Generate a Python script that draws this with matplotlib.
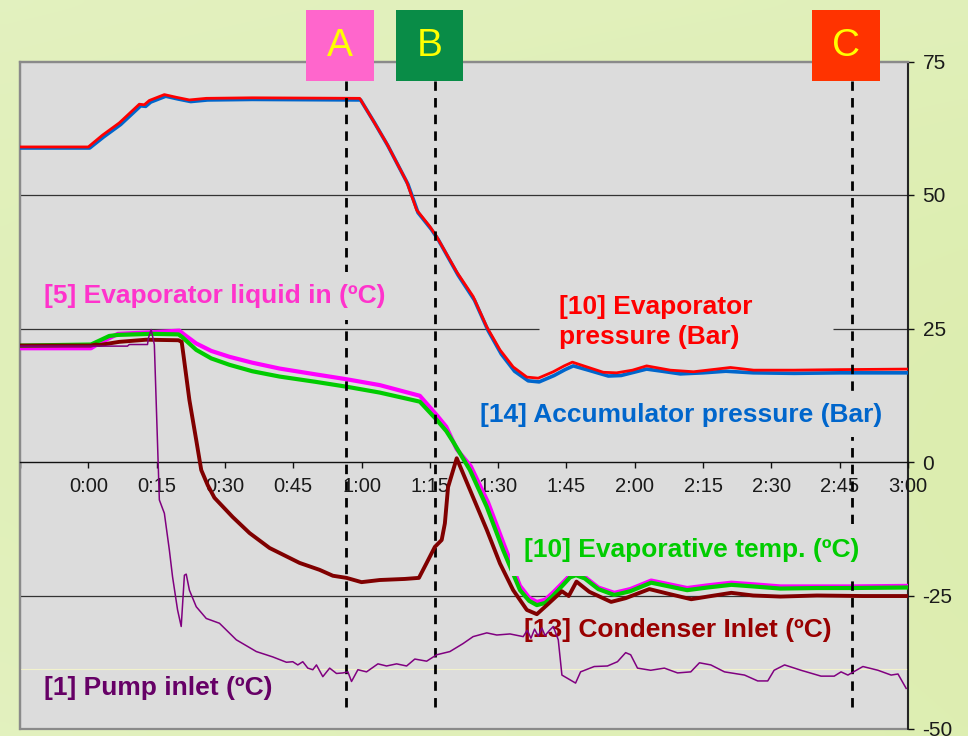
import numpy as np
import matplotlib
matplotlib.use("Agg")
import matplotlib.pyplot as plt
from matplotlib.patches import Rectangle

# ---------------- data (time in minutes, values in bar / degC) ----------------
p_evap_t = [-15, 0, 3.1, 6.8, 11.2, 12.3, 13.4, 16.7, 19.3, 22.2, 25.9, 36, 59.6,
            62.5, 65.5, 69.9, 72.1, 75, 76.5, 80.9, 84.5, 87.5, 90.4, 93.3, 96.3,
            98.8, 102.1, 104.5, 106.3, 109.5, 113.1, 116, 119.5, 122.6, 127.8,
            132.9, 137, 141, 146.1, 155, 165, 180]
p_evap_v = [59.0, 59.0, 61.2, 63.5, 67.0, 66.9, 67.7, 68.8, 68.3, 67.8, 68.1, 68.2, 68.1,
            64.0, 59.7, 52.5, 47.2, 44.1, 42.2, 35.6, 31.0, 25.3, 21.0, 17.8, 15.9,
            15.7, 16.9, 18.0, 18.7, 17.8, 16.8, 16.7, 17.2, 18.0, 17.2,
            16.9, 17.3, 17.7, 17.2, 17.2, 17.3, 17.4]

p_acc_t = [-15, 0.3, 3.4, 7.1, 11.5, 12.6, 13.7, 17.0, 19.6, 22.5, 26.2, 36, 59.8,
           62.8, 65.8, 70.2, 72.4, 75.3, 76.8, 81.2, 84.8, 87.8, 90.7, 93.6, 96.6,
           99.0, 102.3, 104.7, 106.5, 109.8, 114.2, 117, 122.6, 126, 130,
           135, 140, 146, 155, 165, 180]
p_acc_v = [58.8, 58.8, 60.9, 63.2, 66.7, 66.6, 67.4, 68.5, 68.0, 67.5, 67.8, 67.9, 67.8,
           63.6, 59.2, 52.0, 46.7, 43.6, 41.7, 35.0, 30.3, 24.6, 20.2, 17.0, 15.2,
           15.0, 16.2, 17.3, 18.0, 17.2, 16.1, 16.2, 17.4, 17.0, 16.5,
           16.7, 17.0, 16.7, 16.6, 16.7, 16.7]

liq_in_t = [-15, 0.6, 2.5, 6.5, 14, 20.0, 21.0, 23.7, 27, 31, 36, 42, 50, 56.7, 64, 72.8,
            76.5, 78.6, 80.9, 84, 87.8, 91.3, 94.8, 96.8, 98.5, 100.3, 102.1, 105.8,
            107.1, 109, 112, 115.5, 119, 123.6, 127, 131.5, 136, 141.2, 146, 152,
            160, 167.4, 180]
liq_in_v = [21.3, 21.3, 22.3, 24.0, 24.3, 24.6, 23.9, 22.2, 20.8, 19.7, 18.6, 17.5, 16.4,
            15.5, 14.4, 12.4, 8.8, 6.6, 2.4, -0.8, -7.6, -15.5, -23.2, -25.4, -26.2,
            -25.8, -24.4, -21.2, -20.9, -21.5, -23.5, -24.5, -23.8, -22.2, -22.8,
            -23.6, -23.1, -22.6, -22.9, -23.3, -23.3, -23.3, -23.2]

evap_temp_t = [-15, 0.6, 4.6, 6.5, 14, 19.8, 20.6, 23.7, 27, 31, 36, 42, 50, 56.7, 64,
               72.8, 76.5, 78.6, 80.1, 83.8, 87.5, 91.1, 94.8, 96.8, 98.5, 100.3,
               102.1, 105.8, 107.1, 109, 112, 115.5, 119, 123.6, 127, 131.5, 136,
               141.2, 146, 152, 160, 167.4, 180]
evap_temp_v = [21.8, 22.0, 23.6, 23.8, 24.0, 23.9, 23.4, 21.0, 19.4, 18.2, 17.0, 16.0,
               15.0, 14.1, 13.0, 11.3, 7.9, 5.8, 3.8, -1.5, -8.4, -16.5, -24.0, -26.0,
               -26.8, -26.4, -25.0, -21.6, -21.2, -21.8, -23.8, -24.9, -24.2, -22.6,
               -23.2, -24.0, -23.5, -23.0, -23.3, -23.7, -23.6, -23.6, -23.5]

cond_in_t = [-15, 0.5, 1.7, 2.4, 6.8, 12.7, 19.8, 20.5, 20.9, 22.2, 23.7, 24.8, 26.2,
             27.7, 31.7, 35.4, 39.8, 46.4, 50.8, 53.7, 56.7, 60.0, 64, 69.5, 72.6, 74.3,
             76.1, 77.6, 78.3, 79.0, 80.9, 83.8, 87.5, 90.4, 93.3, 96.3, 98.5, 100.7,
             104.0, 105.5, 107.2, 110, 114.8, 118, 123.2, 127, 132.4, 136, 141.2,
             146, 152, 160, 170, 180]
cond_in_v = [21.8, 21.8, 22.0, 21.9, 22.5, 22.9, 22.8, 22.5, 20.0, 11.6, 4.1, -1.5, -4.3,
             -6.7, -10.3, -13.3, -16.1, -18.9, -20.2, -21.3, -21.7, -22.5, -22.1, -21.9,
             -21.7, -18.9, -15.9, -14.6, -11.5, -4.7, 0.7, -5.2, -12.7, -19.0, -24.0,
             -27.7, -28.5, -26.8, -24.2, -25.1, -22.4, -24.3, -26.2, -25.5, -23.8,
             -24.6, -25.7, -25.2, -24.5, -25.0, -25.2, -25.0, -25.1, -25.1]

pump_in_t = [-15, 2.4, 8.6, 9.0, 13.0, 13.2, 13.8, 14.5, 15.6, 16.3, 16.7, 17.8, 18.5,
             19.6, 20.4, 21.1, 21.5, 22.2, 23.7, 25.9, 28.8, 32.5, 36.9, 40.5, 43.5,
             44.9, 46.0, 47.1, 48.2, 49.3, 50.1, 51.5, 53.0, 54.5, 55.9, 57.0, 57.8,
             59.2, 61.1, 63.6, 65.5, 67.7, 69.9, 71.7, 74.3, 76.5, 79.4, 82.3, 84.5,
             87.5, 89.7, 92.6, 95.5, 96.4, 97.2, 98.0, 98.8, 99.6, 100.3, 101.2,
             102.1, 103.2, 104.0, 107.0, 108.1, 111.1, 114.0, 116.2, 118.0, 119.1,
             120.6, 123.5, 126.5, 129.4, 132.3, 134.2, 136.7, 139.7, 144.1, 147.0,
             149.2, 150.6, 152.9, 156.5, 160.9, 163.8, 165.3, 166.8, 170.1, 173.4,
             176.3, 177.8, 179.6]
pump_in_v = [21.7, 21.7, 21.7, 22.0, 22.0, 23.2, 24.8, 22.0, -7.1, -8.7, -9.6, -16.5,
             -21.5, -27.7, -30.8, -21.2, -21.0, -24.0, -27.1, -29.3, -30.2, -33.3,
             -35.5, -36.5, -37.5, -37.4, -38.0, -37.4, -38.6, -38.9, -38.0, -40.2,
             -38.6, -39.6, -39.5, -39.3, -41.1, -38.9, -39.3, -37.8, -38.2, -37.8,
             -38.2, -36.9, -37.3, -36.1, -35.5, -34.0, -32.7, -32.0, -32.4, -32.2,
             -32.7, -31.5, -33.0, -31.3, -32.6, -31.1, -32.5, -31.6, -30.8, -33.3,
             -39.9, -41.4, -39.3, -38.3, -38.2, -37.4, -35.7, -36.1, -38.6, -39.0,
             -38.6, -39.5, -39.3, -37.6, -38.0, -39.3, -39.9, -41.0, -41.0, -39.0,
             -38.0, -39.0, -40.1, -40.1, -39.3, -39.9, -38.3, -39.0, -39.9, -39.7,
             -42.4]

x_ticks = [-15, 0, 15, 30, 45, 60, 75, 90, 105, 120, 135, 150, 165, 180]
x_tick_labels = ["", "0:00", "0:15", "0:30", "0:45", "1:00", "1:15", "1:30",
                 "1:45", "2:00", "2:15", "2:30", "2:45", "3:00"]
y_ticks = [-50, -25, 0, 25, 50, 75]
y_tick_labels = ["-50", "-25", "0", "25", "50", "75"]

marker_times = [56.5, 76.1, 167.6]
marker_labels = ["A", "B", "C"]
marker_colors = ["#ff66cc", "#098c47", "#ff3300"]

# ---------------- figure ----------------
FONT = "Liberation Sans"
plt.rcParams["font.family"] = [FONT, "DejaVu Sans"]

fig = plt.figure(figsize=(9.68, 7.36), dpi=100)

# gradient slide background
bg = fig.add_axes([0, 0, 1, 1], zorder=-10)
h, w = 74, 97
yy, xx = np.mgrid[0:h, 0:w]
c_light = np.array([0.905, 0.955, 0.790])
c_green = np.array([0.860, 0.928, 0.675])
mix = np.clip(0.35 + 0.45 * xx / w + 0.20 * np.sin(np.pi * yy / h) - 0.25 * (1 - yy / h) * (xx / w), 0, 1)
img = c_light[None, None, :] * (1 - mix[..., None]) + c_green[None, None, :] * mix[..., None]
bg.imshow(img, aspect="auto", extent=[0, 1, 0, 1], interpolation="bicubic")
bg.set_axis_off()

ax = fig.add_axes([20 / 968, 1 - 729 / 736, 888 / 968, 667.5 / 736])
ax.set_facecolor("#dcdcdc")
ax.set_xlim(-15, 180)
ax.set_ylim(-50, 75)

# spines
for s in ["left", "top"]:
    ax.spines[s].set_color("#8a8a8a")
    ax.spines[s].set_linewidth(1.6)
ax.spines["bottom"].set_position(("data", 0))
ax.spines["bottom"].set_color("#111111")
ax.spines["bottom"].set_linewidth(1.0)
ax.spines["right"].set_color("#111111")
ax.spines["right"].set_linewidth(1.2)
ax.add_patch(Rectangle((0, 0), 1, 1, transform=ax.transAxes, fill=False,
                       edgecolor="#8a8a8a", lw=1.6, clip_on=False, zorder=1))

# gridlines (25 interrupted by the pressure label box)
ax.axhline(50, color="#333333", lw=0.9, zorder=1.5)
ax.axhline(-25, color="#333333", lw=0.9, zorder=1.5)
ax.hlines(25, -15, 99.0, color="#333333", lw=0.9, zorder=1.5)
ax.hlines(25, 163.6, 180, color="#333333", lw=0.9, zorder=1.5)
ax.axhline(-38.8, color="#f2f2cc", lw=0.8, zorder=1.4)

# ticks
ax.set_xticks(x_ticks)
ax.set_xticklabels(x_tick_labels, fontsize=14.5, color="#1a1a1a")
ax.tick_params(axis="x", direction="out", length=4, width=1, pad=7, color="#111111")
ax.yaxis.tick_right()
ax.set_yticks(y_ticks)
ax.set_yticklabels(y_tick_labels, fontsize=15, color="#1a1a1a")
ax.tick_params(axis="y", direction="out", length=4.5, width=1, pad=6, color="#111111")

# series
ax.plot(p_acc_t, p_acc_v, color="#0066cc", lw=2.6, zorder=3, solid_joinstyle="round")
ax.plot(p_evap_t, p_evap_v, color="#ff0000", lw=2.0, zorder=3.1, solid_joinstyle="round")
ax.plot(liq_in_t, liq_in_v, color="#ff00ff", lw=3.0, zorder=3.2, solid_joinstyle="round")
ax.plot(evap_temp_t, evap_temp_v, color="#00cc00", lw=3.0, zorder=3.3, solid_joinstyle="round")
ax.plot(cond_in_t, cond_in_v, color="#800000", lw=2.8, zorder=6, solid_joinstyle="round")
ax.plot(pump_in_t, pump_in_v, color="#800080", lw=1.1, zorder=7)

# event markers
ax.vlines(marker_times, -45.9, 71.3, colors="#000000", lw=2.0,
          linestyles=[(0, (3.4, 2.6))], zorder=4)
box_w, box_h = 14.8, 13.3
for t, lab, col in zip(marker_times, marker_labels, marker_colors):
    ax.add_patch(Rectangle((t - 1.2 - box_w / 2, 71.3), box_w, box_h, facecolor=col,
                           edgecolor="none", clip_on=False, zorder=8))
    ax.text(t - 1.2, 71.3 + box_h / 2, lab, ha="center", va="center", fontsize=28,
            color="#ffff00", family=FONT, zorder=9, clip_on=False)

# series labels
bb = dict(facecolor="#dcdcdc", edgecolor="none")
ax.text(-9.7, 31.1, "[5] Evaporator liquid in (ºC)", color="#ff33cc", fontsize=19,
        fontweight="bold", ha="left", va="center", zorder=5, bbox=dict(bb, pad=9))
ax.text(103.4, 26.2, "[10] Evaporator\npressure (Bar)", color="#ff0000", fontsize=19,
        fontweight="bold", ha="left", va="center", linespacing=1.32, zorder=5)
ax.text(86.0, 8.8, "[14] Accumulator pressure (Bar)", color="#0066cc", fontsize=19,
        fontweight="bold", ha="left", va="center", zorder=5, bbox=dict(bb, pad=7))
ax.text(95.7, -16.5, "[10] Evaporative temp. (ºC)", color="#00cc00", fontsize=19,
        fontweight="bold", ha="left", va="center", zorder=5, bbox=dict(bb, pad=10))
ax.text(95.7, -31.5, "[13] Condenser Inlet (ºC)", color="#990000", fontsize=19,
        fontweight="bold", ha="left", va="center", zorder=6.5)
ax.text(-9.7, -42.3, "[1] Pump inlet (ºC)", color="#660066", fontsize=19,
        fontweight="bold", ha="left", va="center", zorder=6.5)

fig.savefig("out.png", dpi=100, facecolor=fig.get_facecolor())
